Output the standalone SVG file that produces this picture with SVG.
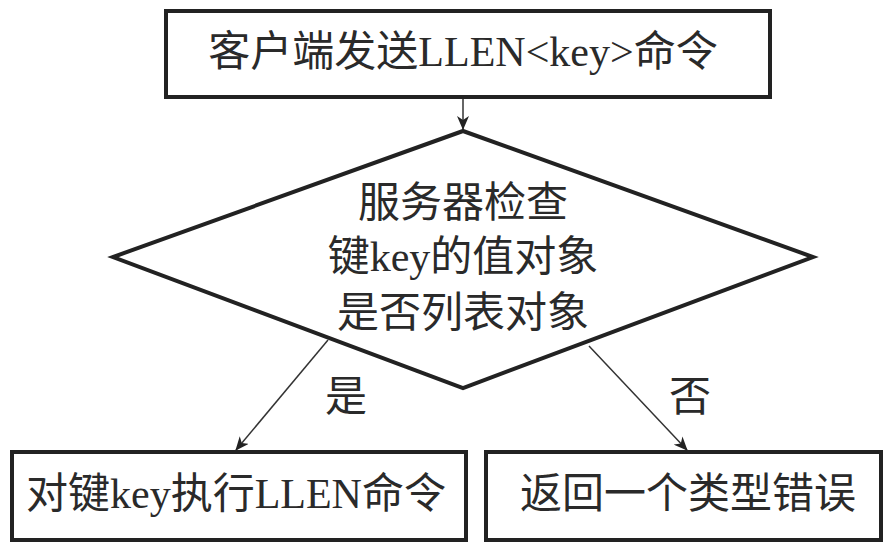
<svg xmlns="http://www.w3.org/2000/svg" width="883" height="542" viewBox="0 0 883 542">
<style>
.box{fill:#fff;stroke:#222;stroke-width:4}
.t{font-family:"Liberation Serif","Noto Sans CJK SC",serif;font-size:42px;fill:#2a2a2a;text-anchor:middle;dominant-baseline:central}
.c{stroke:#333;stroke-width:1.5;fill:none}
</style>
<defs>
<marker id="ah" markerWidth="14" markerHeight="12" refX="13" refY="6" orient="auto" markerUnits="userSpaceOnUse">
<path d="M0,0 L14,6 L0,12 L4,6 Z" fill="#222"/>
</marker>
</defs>
<rect width="883" height="542" fill="#fff"/>
<g id="connectors">
<line class="c" x1="463" y1="98" x2="463" y2="129" marker-end="url(#ah)"/>
<line class="c" x1="328" y1="340" x2="236" y2="450" marker-end="url(#ah)"/>
<line class="c" x1="589" y1="346" x2="687" y2="450" marker-end="url(#ah)"/>
<text class="t" x="346" y="397">是</text>
<text class="t" x="690" y="397">否</text>
</g>
<g id="start">
<rect class="box" x="166" y="11" width="604" height="86"/>
<text class="t" x="463" y="52">客户端发送LLEN&lt;key&gt;命令</text>
</g>
<g id="check">
<polygon class="box" points="463,131 813,257 463,388 113,257"/>
<text class="t" x="463" y="203">服务器检查</text>
<text class="t" x="463" y="257">键key的值对象</text>
<text class="t" x="463" y="313">是否列表对象</text>
</g>
<g id="llen">
<rect class="box" x="12" y="452" width="454" height="88"/>
<text class="t" x="236" y="494">对键key执行LLEN命令</text>
</g>
<g id="error">
<rect class="box" x="486" y="452" width="395" height="88"/>
<text class="t" x="688" y="494">返回一个类型错误</text>
</g>
</svg>
